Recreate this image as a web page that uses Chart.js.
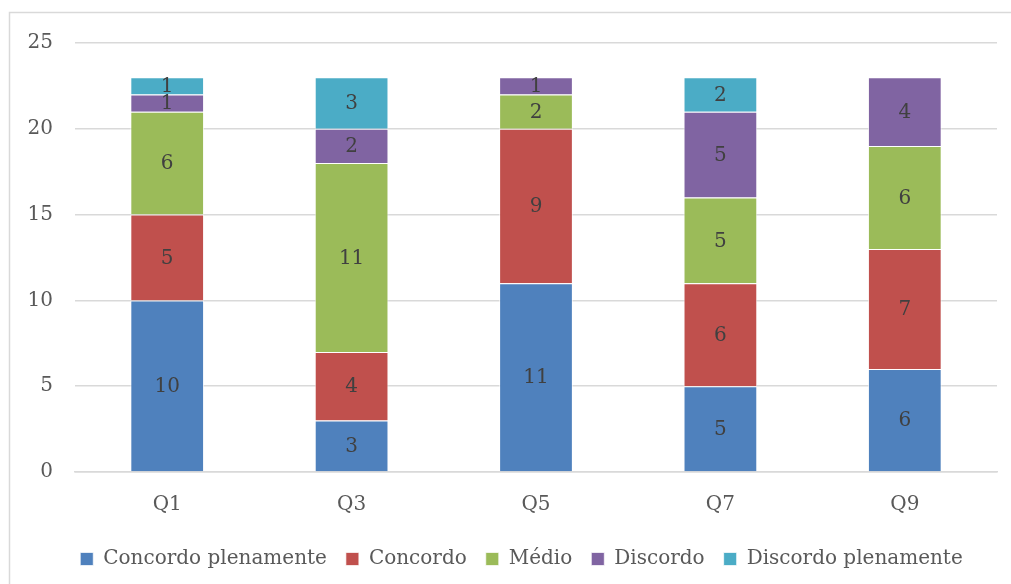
<!DOCTYPE html>
<html>
<head>
<meta charset="utf-8">
<script src="https://cdn.jsdelivr.net/npm/chart.js@4/dist/chart.umd.min.js"></script>
<style>
  html, body { margin: 0; padding: 0; background: #fff; }
  #wrap { position: relative; width: 1011px; height: 584px; }
</style>
</head>
<body>
<div id="wrap"><canvas id="answersChart" width="1011" height="584"></canvas></div>
<script>
const categories = ['Q1', 'Q3', 'Q5', 'Q7', 'Q9'];
const seriesNames = ['Concordo plenamente', 'Concordo', 'Médio', 'Discordo', 'Discordo plenamente'];
const concordoPlenamente = [10, 3, 11, 5, 6];
const concordo = [5, 4, 9, 6, 7];
const medio = [6, 11, 2, 5, 6];
const discordo = [1, 2, 1, 5, 4];
const discordoPlenamente = [1, 3, 0, 2, 0];
const yTicks = [0, 5, 10, 15, 20, 25];

const colors = ['#4F81BD', '#C0504D', '#9BBB59', '#8064A2', '#4BACC6'];
const fontFamily = "'DejaVu Serif', 'Liberation Serif', serif";
const fontSize = 20;

// values printed in the middle of every segment
const segmentLabels = {
  id: 'segmentLabels',
  afterDatasetsDraw(chart) {
    const ctx = chart.ctx;
    ctx.save();
    ctx.font = fontSize + 'px ' + fontFamily;
    ctx.fillStyle = '#404040';
    ctx.textAlign = 'center';
    ctx.textBaseline = 'middle';
    chart.data.datasets.forEach((ds, i) => {
      chart.getDatasetMeta(i).data.forEach((bar, j) => {
        const v = ds.data[j];
        if (!v) return;
        ctx.fillText(String(v), bar.x, (bar.y + bar.base) / 2 + 1);
      });
    });
    ctx.restore();
  }
};

// light frame round the whole chart, legend nudged to sit under the plot
const frame = {
  id: 'frame',
  afterLayout(chart) {
    if (chart.legend) {
      chart.legend.left += 13;
      chart.legend.right += 13;
    }
  },
  beforeDraw(chart) {
    const ctx = chart.ctx;
    ctx.save();
    ctx.strokeStyle = '#d9d9d9';
    ctx.lineWidth = 1.5;
    ctx.strokeRect(9.5, 12.5, chart.width + 20, chart.height + 20);
    ctx.restore();
  }
};

const seriesData = [concordoPlenamente, concordo, medio, discordo, discordoPlenamente];
const datasets = seriesNames.map((name, i) => ({
  label: name,
  data: seriesData[i],
  backgroundColor: colors[i],
  borderColor: 'rgba(255,255,255,0.7)',
  borderWidth: 1,
  barPercentage: 0.4,
  categoryPercentage: 1
}));

const ctx = document.getElementById('answersChart').getContext('2d');
const myChart = new Chart(ctx, {
  type: 'bar',
  data: { labels: categories, datasets: datasets },
  options: {
    responsive: false,
    animation: false,
    layout: { padding: { left: 20, right: 14, top: 43, bottom: 7 } },
    plugins: {
      legend: {
        position: 'bottom',
        maxHeight: 47,
        labels: {
          boxWidth: 13,
          boxHeight: 13,
          padding: 19,
          color: '#595959',
          font: { family: fontFamily, size: fontSize }
        }
      },
      tooltip: { enabled: false }
    },
    scales: {
      x: {
        stacked: true,
        grid: { display: false },
        border: { color: '#d9d9d9', width: 1.5 },
        ticks: { color: '#595959', font: { family: fontFamily, size: fontSize }, padding: 13 }
      },
      y: {
        stacked: true,
        min: 0,
        max: 25,
        afterBuildTicks(scale) { scale.ticks = yTicks.map(v => ({ value: v })); },
        afterFit(scale) { scale.width = 55; },
        grid: { color: '#d9d9d9', lineWidth: 1.5, drawTicks: false },
        border: { display: false },
        ticks: { color: '#595959', font: { family: fontFamily, size: fontSize }, padding: 22 }
      }
    }
  },
  plugins: [frame, segmentLabels]
});
</script>
</body>
</html>
